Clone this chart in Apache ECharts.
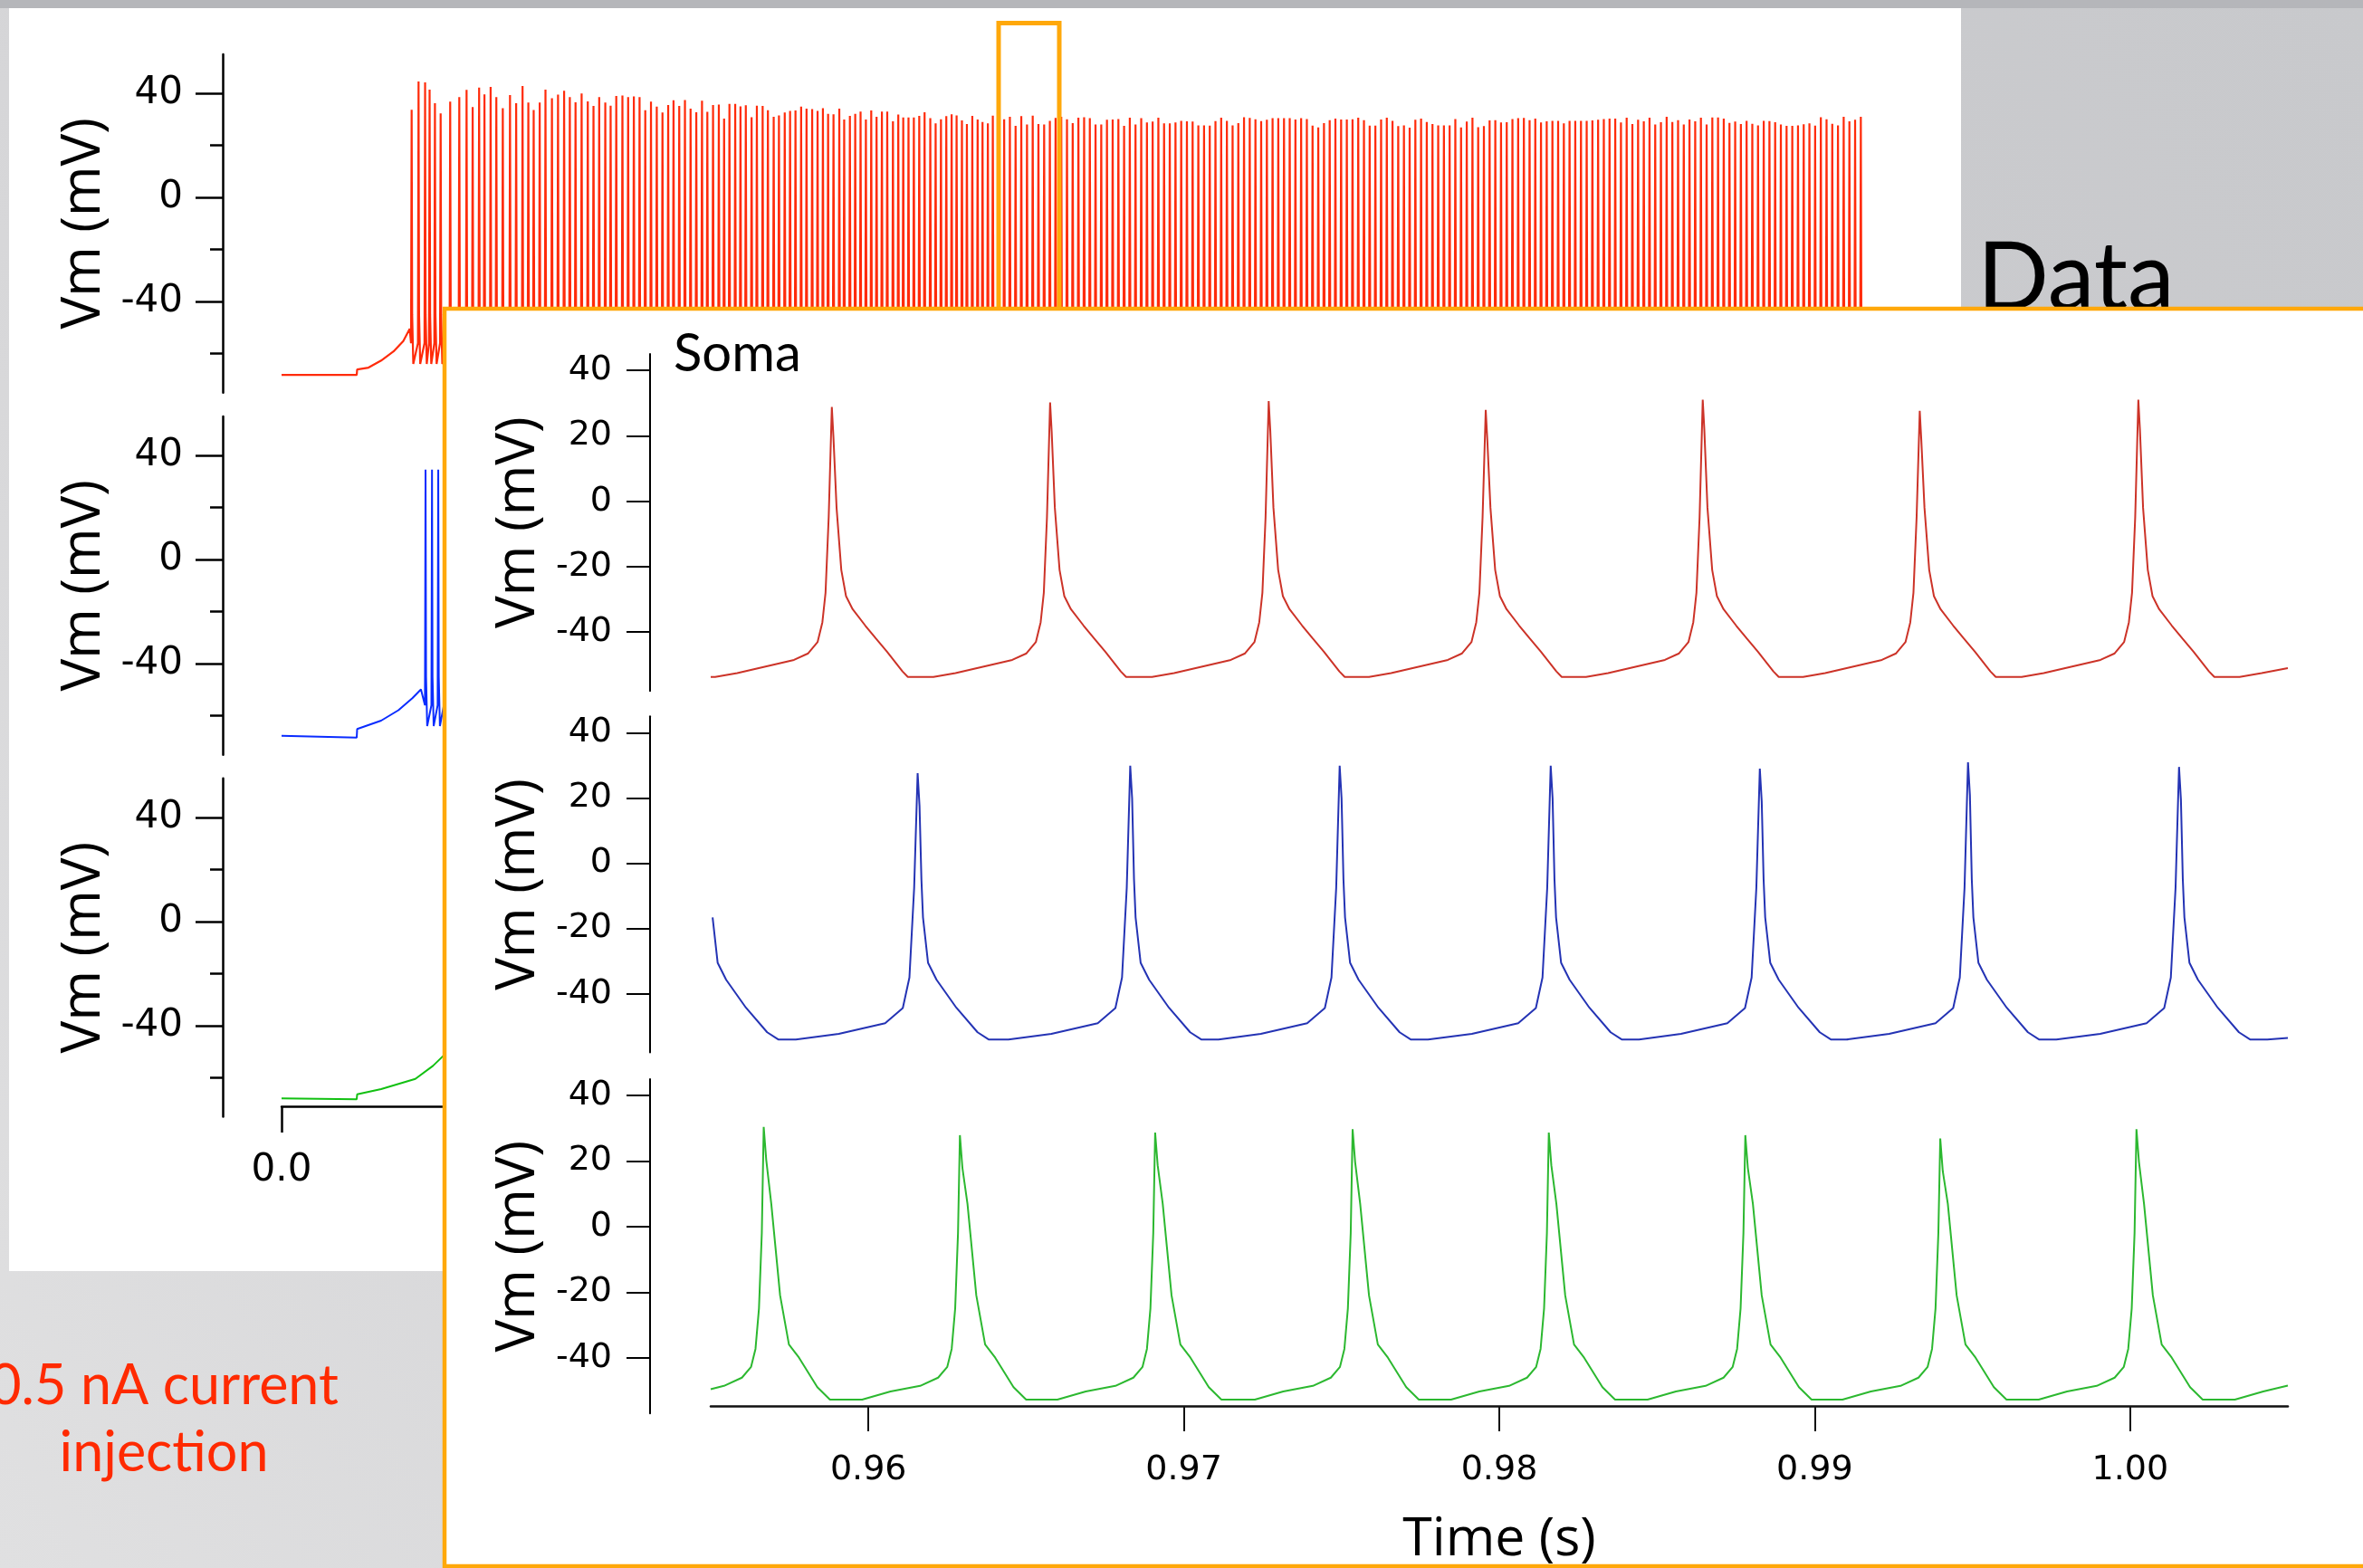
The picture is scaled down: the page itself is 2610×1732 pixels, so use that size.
<!DOCTYPE html>
<html><head><meta charset="utf-8">
<script src="https://cdn.jsdelivr.net/npm/echarts@6/dist/echarts.min.js"></script>
<style>html,body{margin:0;padding:0;overflow:hidden;background:#d2d2d4;}#c{width:2610px;height:1732px;}</style>
</head><body><div id="c"></div>
<script>
// ---------- Overview (0 - 2.2 s), times in ms, Vm in mV ----------
const overviewSpikeMs = [
173.1,182.3,191.0,197.0,204.1,211.7,224.4,236.5,246.2,254.3,262.9,270.0,278.2,285.8,294.4,304.0,312.2,320.7,328.4,335.5,
343.5,351.2,359.8,367.9,376.0,383.6,391.2,399.3,407.5,415.1,422.7,430.8,437.9,445.4,453.6,461.2,468.8,476.4,484.0,491.6,
499.3,506.9,514.5,521.6,529.2,536.8,544.3,551.9,559.5,566.6,574.2,581.9,588.9,596.0,603.7,610.7,617.8,625.5,632.5,640.2,
647.2,654.9,661.9,669.6,676.7,683.9,691.4,698.6,706.1,713.3,720.4,727.3,734.5,742.2,748.7,756.3,763.4,770.5,777.6,784.7,
791.8,798.9,806.0,813.6,820.7,827.3,834.3,841.4,848.6,855.7,863.3,870.4,877.5,884.6,891.7,898.3,905.4,912.0,919.2,926.3,
932.8,939.9,946.5,
954.0,961.6,969.2,976.8,984.4,992.0,999.6,1007.2,1014.8,1022.4,1030.0,1037.6,1045.2,1052.8,1060.4,1068.0,1075.6,1083.2,1090.8,1098.4,
1106.0,1113.6,1121.2,1128.8,1136.4,1144.0,1151.6,1159.2,1166.8,1174.4,1182.0,1189.6,1197.2,1204.8,1212.4,1220.0,1227.6,1235.2,1242.8,1250.4,
1258.0,1265.6,1273.2,1280.8,1288.4,1296.0,1303.6,1311.2,1318.8,1326.4,1334.0,1341.6,1349.2,1356.8,1364.4,1372.0,1379.6,1387.2,1394.8,1402.4,
1410.0,1417.6,1425.2,1432.8,1440.4,1448.0,1455.6,1463.2,1470.8,1478.4,1486.0,1493.6,1501.2,1508.8,1516.4,1524.0,1531.6,1539.2,1546.8,1554.4,
1562.0,1569.6,1577.2,1584.8,1592.4,1600.0,1607.6,1615.2,1622.8,1630.4,1638.0,1645.6,1653.2,1660.8,1668.4,1676.0,1683.6,1691.2,1698.8,1706.4,
1714.0,1721.6,1729.2,1736.8,1744.4,1752.0,1759.6,1767.2,1774.8,1782.4,1790.0,1797.6,1805.2,1812.8,1820.4,1828.0,1835.6,1843.2,1850.8,1858.4,
1866.0,1873.6,1881.2,1888.8,1896.4,1904.0,1911.6,1919.2,1926.8,1934.4,1942.0,1949.6,1957.2,1964.8,1972.4,1980.0,1987.6,1995.2,2002.8,2010.4,
2018.0,2025.6,2033.2,2040.8,2048.4,2056.0,2063.6,2071.2,2078.8,2086.4,2094.0,2101.6
];
const overviewPeakMv = [
33.7,44.5,44.2,41.4,36.2,32.3,36.8,38.5,41.3,34.7,42.2,39.6,42.4,38.5,34.3,39.3,36.2,42.8,36.4,33.6,
36.4,41.4,38.1,39.5,41.0,38.5,36.5,39.9,36.9,35.1,38.5,36.4,35.2,39.0,39.1,38.5,38.8,38.5,33.5,36.8,
34.9,32.6,35.5,37.3,35.1,37.4,34.1,32.7,37.1,32.9,35.5,35.7,30.3,35.9,35.9,35.0,35.4,30.8,35.2,35.1,
33.5,31.0,31.5,32.6,33.2,33.4,34.9,34.1,33.9,33.2,34.3,32.1,31.9,34.1,29.9,31.3,32.1,33.0,29.9,33.4,
31.0,33.0,33.0,29.2,31.8,30.7,30.7,30.7,31.3,32.7,30.4,28.4,30.0,31.2,31.9,31.5,29.6,28.2,31.3,29.9,
29.0,28.4,31.4,
28.9,30.0,31.0,27.5,31.2,28.0,31.4,28.2,28.0,29.4,30.5,
31.0,30.0,28.5,30.6,30.8,30.4,28.0,28.0,29.8,29.9,30.1,27.5,30.6,28.0,30.4,28.8,29.1,30.6,28.4,28.4,
28.8,29.4,29.2,29.1,27.7,27.7,27.6,29.3,30.6,29.4,27.7,28.5,30.8,30.5,30.0,29.3,29.8,30.4,30.4,30.4,
30.4,29.9,30.4,30.1,27.6,26.9,28.5,29.7,30.3,29.9,29.9,30.0,30.6,29.7,27.6,27.6,29.9,30.6,29.4,27.4,
27.7,26.8,29.8,30.3,29.0,28.2,27.7,27.7,27.7,30.1,26.9,29.1,30.6,27.0,27.4,29.6,29.7,28.8,28.9,30.1,
30.4,30.5,29.7,30.3,28.8,29.2,29.4,29.4,28.4,29.4,29.4,29.4,29.4,29.6,29.8,30.1,30.3,30.3,28.8,30.6,
28.2,29.8,29.2,30.6,28.0,28.9,31.0,29.0,29.7,28.0,29.9,29.2,30.6,28.0,30.7,30.7,30.3,28.6,29.1,28.2,
29.4,28.3,27.7,29.4,29.3,28.9,28.0,27.5,27.5,27.7,28.1,28.4,27.6,30.8,30.0,28.3,27.7,31.0,29.2,29.8,31.0
];
const overviewRedLeadMs = [[0,-68.2],[100,-68.2],[100.6,-66.1],[115.7,-65.4],[132.5,-62.7],[149,-59.2],[162,-55.2],[170.5,-50.5]];
const overviewRedTailMs = [[2106,-66],[2115,-70],[2200,-70]];
const overviewBlueLeadMs = [[0,-67.7],[100,-68.4],[100.6,-65.1],[132.5,-61.9],[155.5,-57.9],[174,-53.3],[185.5,-49.9]];
const overviewBlueSpikeMs = [191.6,200.2,208.5,216.8,225.1];
const overviewBluePeakMv = [34.5,34.5,34.5,34.5,34.5];
const overviewGreenMs = [[0,-68],[100,-68.3],[100.6,-66.4],[132.5,-64.4],[178,-60.5],[201.4,-55.5],[215.7,-51.5],[235,-45]];
const overviewPreMs = [[-0.8,-56]];
const overviewPostMs = [[0.7,-45],[2.2,-64]];
const overviewTicks = [0,0.5,1,1.5,2];
const overviewVmMajor = [-40,0,40];
const overviewVmMinor = [-60,-20,20];

// ---------- Inset "Soma" (0.955 - 1.005 s) ----------
const insetRedSpikeS = [0.95884,0.96576,0.97269,0.97957,0.98645,0.99333,1.00026];
const insetRedPeakMv = [28.8,30.2,30.6,27.9,31.0,27.6,31.0];
const insetBlueSpikeS = [0.96156,0.96830,0.97494,0.98163,0.98826,0.99486,1.00155];
const insetBluePeakMv = [27.6,29.9,29.9,29.9,29.0,30.9,29.5];
const insetGreenSpikeS = [0.95668,0.96290,0.96909,0.97535,0.98157,0.98780,0.99398,1.00020];
const insetGreenPeakMv = [30.4,27.9,28.7,29.7,28.7,27.9,26.9,29.7];
// waveform shapes around each peak: [ms offset, mV, relative-to-peak flag]
const redPreMs = [[-3.7,-53.7],[-3.0,-52.5],[-2.1,-50.5],[-1.2,-48.5],[-0.75,-46.5],[-0.45,-43],[-0.3,-37],[-0.2,-28],[-0.1,-5]];
const redPostMs = [[0.05,-9,1],[0.15,-2],[0.3,-21],[0.45,-29],[0.66,-33],[1.06,-38],[1.4,-42],[1.75,-46],[2.24,-52],[2.41,-53.7]];
const bluePreMs = [[-3.86,-54],[-2.5,-52.3],[-1.03,-49],[-0.47,-44.4],[-0.26,-35],[-0.11,-7.5]];
const bluePostMs = [[0.06,-10,1],[0.12,-5],[0.17,-16.6],[0.33,-30.5],[0.6,-35.7],[1.23,-44.3],[1.9,-51.8],[2.25,-54],[2.8,-54]];
const greenPreMs = [[-3.1,-52.8],[-2.2,-50.3],[-1.26,-48.6],[-0.69,-46.1],[-0.4,-42.8],[-0.26,-37.3],[-0.15,-25],[-0.06,-2]];
const greenPostMs = [[0.08,-10,1],[0.24,7],[0.52,-21],[0.8,-36],[1.12,-40],[1.7,-49],[2.1,-52.8]];
const redLead = [[0.955,-53.7]];
const redTail = [[1.00347,-53.7],[1.00417,-52.5],[1.005,-51]];
const blueLead = [[0.95506,-16.6],[0.95522,-30.5],[0.95549,-35.7],[0.95612,-44.3],[0.95679,-51.8],[0.95714,-54]];
const blueTail = [[1.005,-53.5]];
const greenLead = [[0.955,-49.6]];
const greenTail = [[1.00332,-52.8],[1.00422,-50.3],[1.005,-48.5]];
const insetTimeTicks = [0.96,0.97,0.98,0.99,1.00];
const insetVmTicks = [-40,-20,0,20,40];

// ---------- build ----------
function train(timesS, peaks, pre, post) {
  const pts = [];
  timesS.forEach((t, i) => {
    const p = peaks[i];
    pre.forEach(d => pts.push([t + d[0] / 1000, d[2] ? p + d[1] : d[1]]));
    pts.push([t, p]);
    post.forEach(d => pts.push([t + d[0] / 1000, d[2] ? p + d[1] : d[1]]));
  });
  return pts;
}
const msToS = arr => arr.map(d => [d[0] / 1000, d[1]]);
const inWin = pts => pts.filter(d => d[0] >= 0.955 && d[0] <= 1.005);

const ovRed = msToS(overviewRedLeadMs)
  .concat(train(overviewSpikeMs.map(v => v / 1000), overviewPeakMv, overviewPreMs, overviewPostMs))
  .concat(msToS(overviewRedTailMs));
const ovBlue = msToS(overviewBlueLeadMs)
  .concat(train(overviewBlueSpikeMs.map(v => v / 1000), overviewBluePeakMv, overviewPreMs, overviewPostMs));
const ovGreen = msToS(overviewGreenMs);

const inRed = redLead.concat(inWin(train(insetRedSpikeS, insetRedPeakMv, redPreMs, redPostMs))).concat(redTail);
const inBlue = blueLead.concat(inWin(train(insetBlueSpikeS, insetBluePeakMv, bluePreMs, bluePostMs))).concat(blueTail);
const inGreen = greenLead.concat(inWin(train(insetGreenSpikeS, insetGreenPeakMv, greenPreMs, greenPostMs))).concat(greenTail);

const FT = "'DejaVu Sans', Verdana, sans-serif";
const FG = "Lato, 'Open Sans', sans-serif";
const FO = "'Open Sans', Lato, sans-serif";
const ORANGE = '#ffa80a';

const TOP_W = 1826, IN_W = 1742;
const grids = [
  {left:311, top:59.9, width:TOP_W, height:373.75},
  {left:311, top:459.9, width:TOP_W, height:373.75},
  {left:311, top:859.7, width:TOP_W, height:373.75},
  {left:311, top:1212, width:TOP_W, height:10},
  {left:785, top:391, width:IN_W, height:372.3},
  {left:785, top:791.3, width:IN_W, height:371.3},
  {left:785, top:1192, width:IN_W, height:369.2},
  {left:785, top:1545.3, width:IN_W, height:10}
];

function hiddenX(g, min, max) { return {gridIndex:g, type:'value', min, max, show:false}; }
function hiddenY(g) { return {gridIndex:g, type:'value', min:0, max:1, show:false}; }
function topY(g) {
  return {gridIndex:g, type:'value', position:'left', min:-75, max:55, offset:65, z:1,
    axisLine:{show:true, onZero:false, lineStyle:{color:'#000', width:2.5}},
    axisTick:{show:true, customValues:overviewVmMajor, length:30, lineStyle:{color:'#000', width:2.5}},
    axisLabel:{show:true, customValues:overviewVmMajor, margin:44, color:'#000', fontFamily:FT, fontSize:42},
    splitLine:{show:false},
    name:'Vm (mV)', nameLocation:'middle', nameRotate:90, nameGap:100,
    nameTextStyle:{fontFamily:FO, fontSize:60, color:'#000'}};
}
function topYMinor(g) {
  return {gridIndex:g, type:'value', position:'left', min:-75, max:55, offset:65, z:1,
    axisLine:{show:false, onZero:false},
    axisTick:{show:true, customValues:overviewVmMinor, length:14, lineStyle:{color:'#000', width:2.5}},
    axisLabel:{show:false}, splitLine:{show:false}};
}
function insetY(g, min) {
  return {gridIndex:g, type:'value', position:'left', min, max:45, offset:67, z:6,
    axisLine:{show:true, onZero:false, lineStyle:{color:'#000', width:2}},
    axisTick:{show:true, customValues:insetVmTicks, length:26, lineStyle:{color:'#000', width:2}},
    axisLabel:{show:true, customValues:insetVmTicks, margin:42, color:'#000', fontFamily:FT, fontSize:38},
    splitLine:{show:false},
    name:'Vm (mV)', nameLocation:'middle', nameRotate:90, nameGap:108,
    nameTextStyle:{fontFamily:FO, fontSize:60, color:'#000'}};
}

const xAxes = [
  hiddenX(0,0,2.2), hiddenX(1,0,2.2), hiddenX(2,0,2.2),
  {gridIndex:3, type:'value', min:0, max:2.2, position:'bottom', z:1,
    axisLine:{show:true, onZero:false, lineStyle:{color:'#000', width:2.5}},
    axisTick:{show:true, customValues:overviewTicks, length:29, lineStyle:{color:'#000', width:2.5}},
    axisLabel:{show:true, customValues:overviewTicks, margin:50, color:'#000', fontFamily:FT, fontSize:42,
      formatter: v => Number(v).toFixed(1)},
    splitLine:{show:false}},
  hiddenX(4,0.955,1.005), hiddenX(5,0.955,1.005), hiddenX(6,0.955,1.005),
  {gridIndex:7, type:'value', min:0.955, max:1.005, position:'bottom', z:6,
    axisLine:{show:true, onZero:false, lineStyle:{color:'#111', width:2.5}},
    axisTick:{show:true, customValues:insetTimeTicks, length:28, lineStyle:{color:'#111', width:2}},
    axisLabel:{show:true, customValues:insetTimeTicks, margin:52, color:'#000', fontFamily:FT, fontSize:38,
      formatter: v => Number(v).toFixed(2)},
    splitLine:{show:false},
    name:'Time (s)', nameLocation:'middle', nameGap:119,
    nameTextStyle:{fontFamily:FO, fontSize:59, color:'#000'}}
];
const yAxes = [
  topY(0), topYMinor(0), topY(1), topYMinor(1), topY(2), topYMinor(2), hiddenY(3),
  insetY(4,-58), insetY(5,-58), insetY(6,-57), hiddenY(7)
];

function line(data, xi, yi, color, width, z) {
  return {type:'line', data, xAxisIndex:xi, yAxisIndex:yi, z, showSymbol:false, symbol:'none',
    silent:true, animation:false, clip:true, sampling:null,
    lineStyle:{color, width, join:'bevel', cap:'butt'}};
}

const chart = echarts.init(document.getElementById('c'), null, {width:2610, height:1732});
chart.setOption({
  animation:false,
  backgroundColor:'transparent',
  grid: grids,
  xAxis: xAxes,
  yAxis: yAxes,
  graphic: {elements: [
    {type:'rect', z:-100, silent:true, shape:{x:0, y:0, width:2610, height:1732},
      style:{fill:new echarts.graphic.LinearGradient(0,1,1,0,[{offset:0,color:'#e0e0e1'},{offset:0.55,color:'#cdcdd0'},{offset:1,color:'#c8c9cc'}])}},
    {type:'rect', z:-99, silent:true, shape:{x:0, y:0, width:2610, height:9}, style:{fill:'#b5b6ba'}},
    {type:'rect', z:-98, silent:true, shape:{x:10, y:9, width:2156, height:1395}, style:{fill:'#ffffff'}},
    {type:'text', z:-97, silent:true, style:{text:'Data', x:2184, y:256, fill:'#000', fontFamily:FG, fontSize:104, textAlign:'left', textVerticalAlign:'top'}},
    {type:'text', z:-97, silent:true, style:{text:'0.5 nA current\ninjection', x:181, y:1494, fill:'#ff2a00', fontFamily:FG, fontSize:61, lineHeight:74, textAlign:'center', textVerticalAlign:'top'}},
    {type:'rect', z:3, silent:true, shape:{x:1103, y:25.5, width:67, height:316}, style:{fill:null, stroke:ORANGE, lineWidth:5}},
    {type:'rect', z:5, silent:true, shape:{x:491, y:341, width:2200, height:1389}, style:{fill:'#ffffff', stroke:ORANGE, lineWidth:4.5}},
    {type:'text', z:10, silent:true, style:{text:'Soma', x:744, y:362, fill:'#000', fontFamily:FG, fontSize:58, textAlign:'left', textVerticalAlign:'top'}}
  ]},
  series: [
    line(ovRed, 0, 0, '#ff2b0a', 2.2, 2),
    line(ovBlue, 1, 2, '#0a2cff', 2, 2),
    line(ovGreen, 2, 4, '#12c012', 2, 2),
    line(inRed, 4, 7, '#cc3328', 2, 7),
    line(inBlue, 5, 8, '#2433b4', 2, 7),
    line(inGreen, 6, 9, '#2cb830', 2, 7)
  ]
});
</script>
</body></html>
